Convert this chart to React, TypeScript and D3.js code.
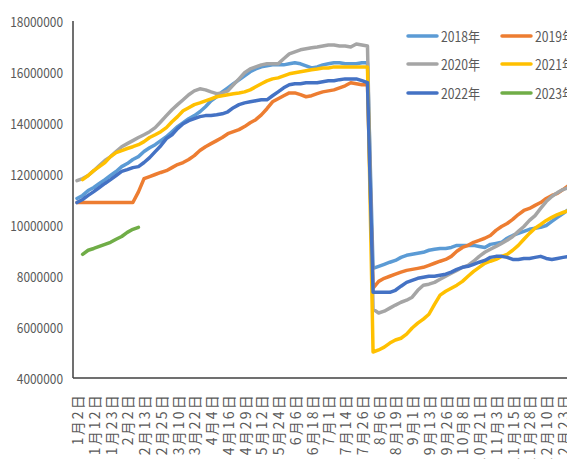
import React from 'react';
import * as d3 from 'd3';

// Category tick labels (one label every third point)
const tickLabels = [
  '1月2日', '1月12日', '1月23日', '2月2日', '2月13日', '2月25日', '3月10日', '3月22日',
  '4月4日', '4月16日', '4月29日', '5月12日', '5月24日', '6月6日', '6月18日', '7月1日',
  '7月14日', '7月26日', '8月6日', '8月19日', '9月1日', '9月13日', '9月26日', '10月8日',
  '10月21日', '11月3日', '11月15日', '11月28日', '12月10日', '12月23日',
];

const yTicks = [4000000, 6000000, 8000000, 10000000, 12000000, 14000000, 16000000, 18000000];

const seriesNames = ['2018年', '2019年', '2020年', '2021年', '2022年', '2023年'];
const seriesColors = ['#5B9BD5', '#ED7D31', '#A5A5A5', '#FFC000', '#4472C4', '#70AD47'];

// Values in millions
const s2018 = [
  11.04, 11.16, 11.35, 11.47, 11.63, 11.78, 11.94, 12.10, 12.29, 12.41, 12.57, 12.68, 12.88, 13.03, 13.15, 13.31,
  13.46, 13.66, 13.86, 14.01, 14.17, 14.29, 14.44, 14.64, 14.87, 15.03, 15.22, 15.38, 15.54, 15.69, 15.85, 16.01,
  16.12, 16.20, 16.24, 16.28, 16.28, 16.28, 16.32, 16.36, 16.32, 16.24, 16.16, 16.20, 16.28, 16.32, 16.36, 16.36,
  16.32, 16.32, 16.32, 16.36, 16.36, 8.30, 8.38, 8.46, 8.54, 8.61, 8.73, 8.81, 8.85, 8.89, 8.93, 9.01, 9.05, 9.08,
  9.08, 9.12, 9.20, 9.20, 9.20, 9.20, 9.16, 9.12, 9.24, 9.28, 9.32, 9.48, 9.59, 9.67, 9.75, 9.83, 9.87, 9.91, 9.98,
  10.14, 10.30, 10.45, 10.61,
];

const s2019 = [
  10.88, 10.88, 10.88, 10.88, 10.88, 10.88, 10.88, 10.88, 10.88, 10.88, 10.88, 11.30, 11.82, 11.90, 11.98, 12.06,
  12.13, 12.25, 12.37, 12.45, 12.57, 12.72, 12.92, 13.07, 13.19, 13.31, 13.43, 13.58, 13.66, 13.74, 13.86, 14.01,
  14.13, 14.32, 14.56, 14.83, 14.95, 15.07, 15.18, 15.18, 15.11, 15.03, 15.07, 15.15, 15.22, 15.26, 15.30, 15.38,
  15.46, 15.58, 15.54, 15.50, 15.50, 7.52, 7.79, 7.91, 7.99, 8.07, 8.15, 8.22, 8.26, 8.30, 8.34, 8.42, 8.50, 8.58,
  8.65, 8.77, 8.97, 9.12, 9.20, 9.32, 9.40, 9.48, 9.59, 9.79, 9.94, 10.06, 10.22, 10.41, 10.57, 10.65, 10.77, 10.88,
  11.04, 11.16, 11.24, 11.39, 11.55,
];

const s2020 = [
  11.74, 11.82, 11.94, 12.13, 12.33, 12.53, 12.68, 12.88, 13.07, 13.19, 13.31, 13.43, 13.54, 13.66, 13.82, 14.05,
  14.29, 14.52, 14.72, 14.91, 15.11, 15.26, 15.34, 15.30, 15.22, 15.15, 15.18, 15.26, 15.50, 15.73, 15.97, 16.12,
  16.20, 16.28, 16.32, 16.32, 16.32, 16.52, 16.71, 16.79, 16.87, 16.91, 16.95, 16.98, 17.02, 17.06, 17.06, 17.02,
  17.02, 16.98, 17.10, 17.06, 17.02, 6.70, 6.55, 6.62, 6.74, 6.86, 6.97, 7.05, 7.17, 7.44, 7.64, 7.68, 7.75, 7.87,
  7.99, 8.11, 8.22, 8.34, 8.42, 8.58, 8.77, 8.93, 9.05, 9.16, 9.28, 9.40, 9.55, 9.75, 9.94, 10.18, 10.37, 10.65,
  10.92, 11.12, 11.27, 11.39, 11.47,
];

const s2021 = [
  null, 11.78, 11.94, 12.13, 12.29, 12.45, 12.68, 12.84, 12.92, 13.00, 13.07, 13.15, 13.27, 13.43, 13.54, 13.66,
  13.82, 14.05, 14.25, 14.48, 14.60, 14.72, 14.79, 14.87, 14.95, 15.03, 15.07, 15.11, 15.15, 15.18, 15.22, 15.30,
  15.42, 15.54, 15.65, 15.73, 15.77, 15.85, 15.93, 15.97, 16.01, 16.05, 16.09, 16.12, 16.16, 16.16, 16.20, 16.20,
  16.20, 16.20, 16.20, 16.20, 16.20, 5.02, 5.10, 5.21, 5.37, 5.49, 5.56, 5.72, 5.96, 6.15, 6.31, 6.50, 6.89, 7.25,
  7.40, 7.52, 7.64, 7.79, 7.99, 8.18, 8.34, 8.50, 8.58, 8.65, 8.77, 8.85, 9.01, 9.20, 9.44, 9.67, 9.87, 10.02,
  10.18, 10.30, 10.41, 10.49, 10.57,
];

const s2022 = [
  10.88, 11.00, 11.16, 11.31, 11.47, 11.63, 11.78, 11.94, 12.10, 12.17, 12.25, 12.29, 12.45, 12.64, 12.88, 13.11,
  13.39, 13.54, 13.78, 13.97, 14.09, 14.17, 14.25, 14.29, 14.29, 14.32, 14.36, 14.44, 14.60, 14.72, 14.79, 14.83,
  14.87, 14.91, 14.91, 15.07, 15.22, 15.38, 15.50, 15.54, 15.54, 15.58, 15.58, 15.58, 15.62, 15.66, 15.66, 15.70,
  15.73, 15.73, 15.73, 15.66, 15.58, 7.36, 7.36, 7.36, 7.36, 7.44, 7.60, 7.75, 7.83, 7.91, 7.95, 7.99, 7.99, 8.03,
  8.07, 8.15, 8.26, 8.34, 8.38, 8.46, 8.54, 8.61, 8.73, 8.77, 8.77, 8.73, 8.65, 8.65, 8.69, 8.69, 8.73, 8.77,
  8.69, 8.65, 8.69, 8.73, 8.77,
];

const s2023 = [null, 8.85, 9.01, 9.08, 9.16, 9.24, 9.32, 9.44, 9.55, 9.71, 9.83, 9.91];

const allSeries = [s2018, s2019, s2020, s2021, s2022, s2023];

const W = 567;
const H = 459;
const FONT = "'Liberation Sans Narrow', 'Arial Narrow', 'Noto Sans CJK SC', sans-serif";
const TEXT = '#595959';

export default function App() {
  const plotLeft = 73;
  const plotBottom = 378;
  const plotTop = 21;

  const x = d3.scaleLinear().domain([0, 87]).range([77, 563]);
  const y = d3.scaleLinear().domain([4000000, 18000000]).range([plotBottom, plotTop]);

  const line = d3
    .line<number | null>()
    .defined((d) => d !== null)
    .x((_, i) => x(i))
    .y((d) => y((d as number) * 1e6));

  const legendRows = [
    [0, 1],
    [2, 3],
    [4, 5],
  ];
  const legendY = [36, 64, 93];
  const legendX = [408, 502];

  return (
    <svg
      width={W}
      height={H}
      style={{ position: 'absolute', left: 0, top: 0, background: '#fff' }}
      fontFamily={FONT}
    >
      <rect x={0} y={0} width={W} height={H} fill="#fff" />

      {/* y-axis labels */}
      {yTicks.map((t) => {
        const label = String(t);
        return (
          <text
            key={t}
            x={63}
            y={y(t)}
            textAnchor="end"
            dominantBaseline="central"
            fontSize={14}
            fill={TEXT}
            textLength={label.length * 6.6}
            lengthAdjust="spacingAndGlyphs"
          >
            {label}
          </text>
        );
      })}

      {/* series lines */}
      {allSeries.map((s, k) => (
        <path
          key={k}
          d={line(s) ?? ''}
          fill="none"
          stroke={seriesColors[k]}
          strokeWidth={3.5}
          strokeLinejoin="round"
          strokeLinecap="round"
        />
      ))}

      {/* axes */}
      <line x1={plotLeft} y1={plotTop} x2={plotLeft} y2={plotBottom} stroke="#404040" strokeWidth={1.5} />
      <line x1={plotLeft} y1={plotBottom} x2={W} y2={plotBottom} stroke="#404040" strokeWidth={1.5} />

      {/* category labels, rotated */}
      {tickLabels.map((lab, k) => (
        <text
          key={lab}
          transform={`translate(${x(k * 3)},393) rotate(-90)`}
          textAnchor="end"
          dominantBaseline="central"
          fontSize={14}
          letterSpacing={2.2}
          fill={TEXT}
        >
          {lab}
        </text>
      ))}

      {/* legend */}
      {legendRows.map((row, r) =>
        row.map((idx, c) => (
          <g key={idx}>
            <line
              x1={legendX[c]}
              x2={legendX[c] + 29}
              y1={legendY[r]}
              y2={legendY[r]}
              stroke={seriesColors[idx]}
              strokeWidth={3.5}
              strokeLinecap="round"
            />
            <text
              x={legendX[c] + 33}
              y={legendY[r]}
              dominantBaseline="central"
              fontSize={14}
              fill={TEXT}
              textLength={39}
              lengthAdjust="spacingAndGlyphs"
            >
              {seriesNames[idx]}
            </text>
          </g>
        )),
      )}
    </svg>
  );
}
